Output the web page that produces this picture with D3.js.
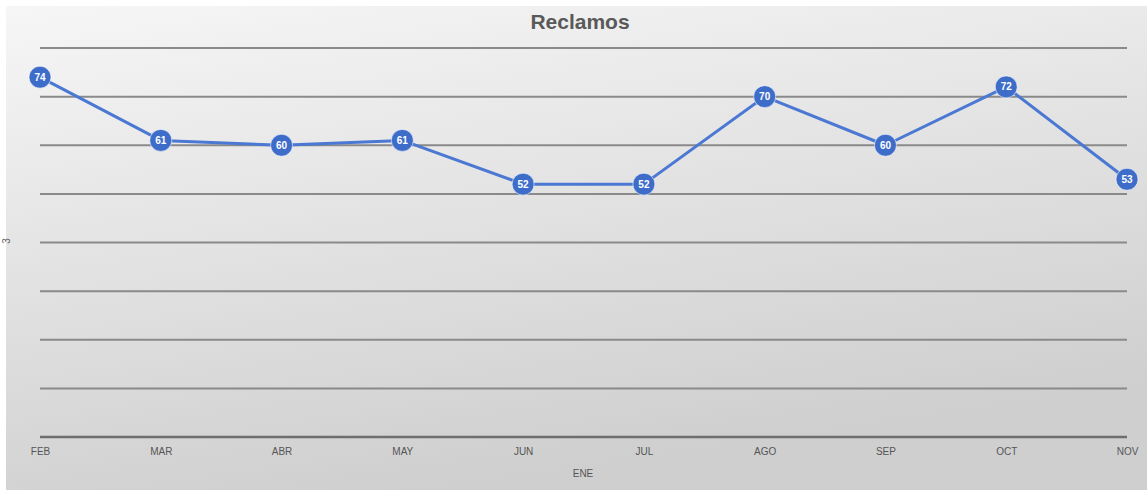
<!DOCTYPE html>
<html><head><meta charset="utf-8">
<script src="https://cdn.jsdelivr.net/npm/d3@7/dist/d3.min.js"></script>
<style>body{margin:0;background:#fff;}svg{display:block;}</style>
</head><body>
<svg id="chart" width="1147" height="490"></svg>
<script>
const months = ["FEB","MAR","ABR","MAY","JUN","JUL","AGO","SEP","OCT","NOV"];
const reclamos = [74,61,60,61,52,52,70,60,72,53];
const yTicks = [0,10,20,30,40,50,60,70,80];
const title = "Reclamos";
const xTitle = "ENE";

const W = 1147, H = 490;
const svg = d3.select("#chart");
const defs = svg.append("defs");
const g = defs.append("linearGradient").attr("id","bg")
  .attr("x1","0").attr("y1","0").attr("x2","0.35").attr("y2","1");
g.append("stop").attr("offset","0").attr("stop-color","#f6f6f6");
g.append("stop").attr("offset","1").attr("stop-color","#cfcfcf");

svg.append("rect").attr("x",6).attr("y",6).attr("width",W-6).attr("height",H-6).attr("fill","url(#bg)");

const x = d3.scalePoint().domain(months).range([40,1127]);
const y = d3.scaleLinear().domain([0,80]).range([437,48]);

svg.append("g").selectAll("line").data(yTicks).join("line")
  .attr("x1",40).attr("x2",1127)
  .attr("y1",d=>y(d)).attr("y2",d=>y(d))
  .attr("stroke",d=>d===0?"#6e6e6e":"#8a8a8a").attr("stroke-width",d=>d===0?2.5:2);

const xa = svg.append("g").attr("transform",`translate(0,${y(0)})`)
  .call(d3.axisBottom(x).tickSize(0).tickPadding(11));
xa.select(".domain").remove();
xa.selectAll("text").attr("font-family","Liberation Sans, Arial, sans-serif").attr("font-size",10).attr("fill","#555");

svg.append("text").attr("x",583).attr("y",477).attr("text-anchor","middle")
  .attr("font-family","Liberation Sans, Arial, sans-serif").attr("font-size",10).attr("fill","#555").text(xTitle);

svg.append("text").attr("x",580).attr("y",29).attr("text-anchor","middle")
  .attr("font-family","Liberation Sans, Arial, sans-serif").attr("font-weight","bold").attr("font-size",21).attr("fill","#595959").text(title);

svg.append("text").attr("transform","translate(10,241) rotate(-90)").attr("text-anchor","middle")
  .attr("font-family","Liberation Sans, Arial, sans-serif").attr("font-size",10).attr("fill","#666").text("3");

const line = d3.line().x((d,i)=>x(months[i])).y(d=>y(d));
svg.append("path").datum(reclamos).attr("d",line).attr("fill","none")
  .attr("stroke","#4a78d2").attr("stroke-width",3).attr("stroke-linejoin","round");

const pts = svg.append("g").selectAll("g").data(reclamos).join("g")
  .attr("transform",(d,i)=>`translate(${x(months[i])},${y(d)})`);
pts.append("circle").attr("r",11).attr("fill","#3d6cc9").attr("stroke","#ffffff").attr("stroke-opacity",0.6).attr("stroke-width",1);
pts.append("text").attr("text-anchor","middle").attr("dy","0.35em")
  .attr("font-family","Liberation Sans, Arial, sans-serif").attr("font-weight","bold").attr("font-size",10).attr("fill","#fff").text(d=>d);
</script>
</body></html>
